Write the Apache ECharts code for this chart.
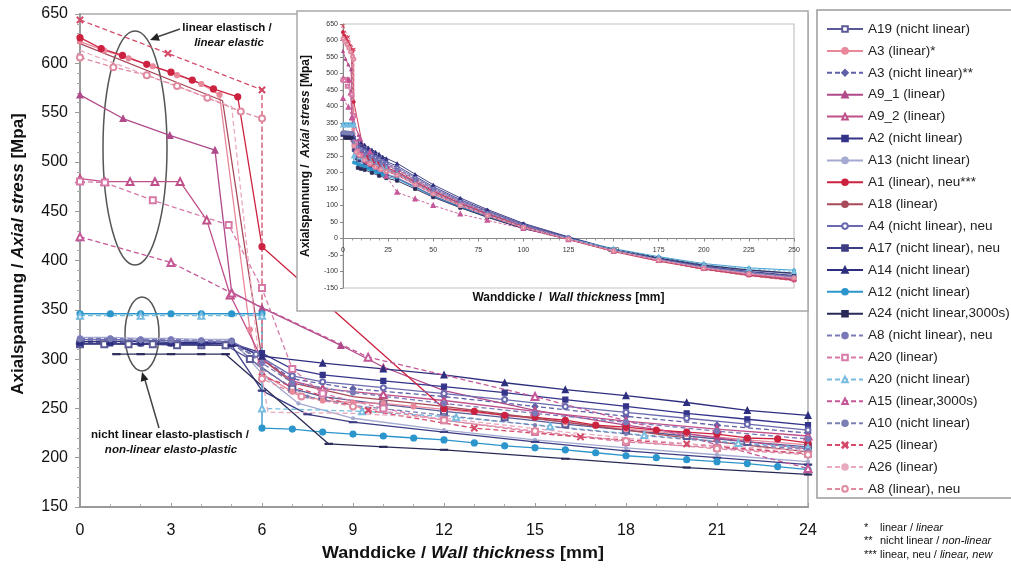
<!DOCTYPE html>
<html>
<head>
<meta charset="utf-8">
<script src="https://cdn.jsdelivr.net/npm/echarts@6/dist/echarts.min.js"></script>
<style>
  html, body { margin: 0; padding: 0; background: #fff; }
  #chart { width: 1011px; height: 569px; }
</style>
</head>
<body>
<div id="chart"></div>
<script>
// Axial stress over wall thickness, FE results per specimen.
// Each series: detailed points in the first 24 mm, then values on a shared grid out to 250 mm.
const TAIL_X = [30, 40, 50, 65, 80, 100, 125, 150, 175, 200, 225, 250];

const a19 = [[0,315],[0.8,315],[1.6,315],[2.4,315],[3.2,314],[4,314],[4.8,314],[5.6,300],[7,270],[8,262],[10,254],[12,247],[14,241],[16,234],[18,228],[20,222],[22,216],[24,211]];
const a19Tail = [200,171,142,106,74,36,0,-35,-62,-85,-101,-114];

const a3lin = [[0,622],[0.8,613],[1.6,605],[2.4,597],[3.2,588],[4,579],[4.6,568],[5.6,330],[6,285],[7,267],[8,258],[9,256],[10,255],[11,252],[12,249],[14,243],[16,236],[18,229],[20,224],[22,218],[24,213]];
const a3linTail = [201,172,143,106,74,35,-2,-38,-67,-92,-110,-124];

const a3nl = [[0,317],[1,317],[2,316],[3,316],[4,316],[5,315],[6,300],[7,280],[9,270],[12,262],[15,252],[18,242],[21,233],[24,225]];
const a3nlTail = [212,181,151,113,80,40,1,-36,-64,-88,-105,-119];

const a9_1 = [[0,568],[1.42,544],[2.96,527],[4.45,512],[5,368],[6,352],[8.6,314],[10,292],[12,268],[15,248],[18,233],[21,220],[24,209]];
const a9_1Tail = [198,169,140,104,72,34,-2,-38,-67,-91,-109,-123];

const a9_2 = [[0,483],[0.82,480],[1.65,480],[2.47,480],[3.3,480],[4.18,441],[4.95,365],[6,300],[7,278],[8,270],[10,264],[12,258],[15,247],[18,237],[21,229],[24,222]];
const a9_2Tail = [209,178,148,111,78,38,0,-37,-66,-90,-108,-122];

const a2 = [[0,316],[1,316],[2,316],[3,316],[4,316],[5,316],[6,306],[7,290],[8,284],[10,278],[12,272],[14,266],[16,259],[18,252],[20,245],[22,239],[24,233]];
const a2Tail = [220,188,157,118,84,43,3,-34,-62,-86,-103,-116];

const a13 = [[0,322],[1,322],[2,321],[3,321],[4,320],[5,320],[6,285],[7.2,255],[9,240],[12,228],[15,218],[18,210],[21,203],[24,196]];
const a13Tail = [186,158,131,97,67,31,-1,-34,-60,-82,-97,-108];

const a1 = [[0,626],[0.7,615],[1.4,608],[2.2,599],[3,591],[3.7,583],[4.4,574],[5.2,566],[6,414],[12,250],[13,247],[14,243],[15,241],[16,238],[17,233],[18,231],[19,228],[20,226],[21,224],[22,220],[23,219],[24,215]];
const a1Tail = [203,173,144,107,75,36,-2,-39,-68,-93,-112,-127];

const a18 = [[0,620],[4.7,562],[5.4,420],[6,300],[7,276],[9,262],[12,252],[15,240],[18,228],[21,216],[24,206]];
const a18Tail = [195,166,138,102,71,33,-3,-39,-68,-92,-111,-126];

const a4 = [[0,320],[1,320],[2,319],[3,319],[4,318],[5,318],[5.8,305],[7,283],[8,277],[10,271],[12,265],[14,259],[16,252],[18,246],[20,240],[22,234],[24,228]];
const a4Tail = [215,184,153,115,82,41,2,-35,-63,-87,-104,-117];

const a17 = [[0,316],[1,316],[2,315],[3,315],[4,315],[5,314],[6,268],[7.5,244],[9,236],[12,226],[15,216],[18,207],[21,200],[24,193]];
const a17Tail = [183,156,129,96,66,31,-1,-34,-59,-81,-96,-106];

const a14 = [[0,318],[1,318],[2,318],[3,317],[4,317],[5,316],[6,303],[8,296],[10,290],[12,284],[14,276],[16,269],[18,263],[20,256],[22,248],[24,243]];
const a14Tail = [228,195,163,123,88,46,5,-33,-60,-84,-100,-112];

const a12 = [[0,346],[1,346],[2,346],[3,346],[4,346],[5,346],[6,346],[6,230],[7,229],[8,226],[9,224],[10,222],[11,220],[12,218],[13,215],[14,212],[15,210],[16,208],[17,205],[18,202],[19,200],[20,198],[21,196],[22,194],[23,191],[24,188]];
const a12Tail = [180,154,128,95,66,31,0,-31,-55,-76,-89,-96];

const a24 = [[1.2,305],[2,305],[3,305],[4,305],[4.8,305],[8.2,214],[10,211],[12,208],[16,199],[20,190],[24,183]];
const a24Tail = [175,150,125,93,64,30,-1,-33,-58,-80,-95,-105];

const a8nl = [[0,321],[1,321],[2,320],[3,320],[4,319],[5,318],[6,296],[7,276],[9,266],[12,255],[15,245],[18,236],[21,227],[24,219]];
const a8nlTail = [207,176,147,110,77,38,1,-35,-63,-86,-103,-116];

const a20lin = [[0,480],[0.82,479],[2.4,461],[4.9,436],[6,372],[7,290],[8,265],[10,250],[12,238],[15,226],[18,216],[21,210],[24,204]];
const a20linTail = [193,164,136,101,70,33,-2,-38,-66,-90,-108,-121];

const a20nl = [[0,344],[2,344],[4,344],[6,344],[6,250],[9.3,247],[12.4,241],[15.5,232],[18.6,223],[21.7,215],[24,210]];
const a20nlTail = [196,166,137,101,70,33,0,-32,-57,-78,-92,-100];

const a15 = [[0,424],[3,398],[5,367],[9.5,302],[15,262],[24,189]];
const a15Tail = [140,120,100,74,55,30,-4,-39,-67,-91,-109,-122];

const a10 = [[0,319],[1,319],[2,318],[3,318],[4,318],[5,317],[6,290],[7.5,262],[9,253],[12,243],[15,233],[18,224],[21,216],[24,208]];
const a10Tail = [197,168,140,104,72,34,-1,-36,-63,-86,-102,-115];

const a25 = [[0,644],[2.9,610],[6,573],[6,282],[9.5,248],[13,230],[16.5,221],[20,214],[24,204]];
const a25Tail = [192,163,135,100,69,32,-3,-40,-69,-94,-113,-128];

const a26 = [[0,613],[5,556],[5.9,300],[6.2,246],[9,245],[12,240],[16,226],[20,214],[24,207]];
const a26Tail = [195,166,138,102,71,34,-1,-37,-65,-89,-106,-119];

const a8lin = [[0,606],[1.1,596],[2.2,588],[3.2,577],[4.2,565],[5.3,551],[6,544],[6,280],[7.3,262],[9,252],[12,238],[15,227],[18,217],[21,209],[24,203]];
const a8linTail = [192,163,135,100,69,33,-2,-38,-66,-90,-107,-120];

const MAIN_Y_TICKS = [150, 650, 50];
const MAIN_X_TICKS = [0, 24, 3];
const INSET_Y_TICKS = [-150, 650, 50];
const INSET_X_TICKS = [0, 250, 25];

const FONT = '"Liberation Sans", Arial, Helvetica, sans-serif';
const DASH = 'path://M0,0H10V2H0Z';
const CROSS = 'path://M1,0L5,4L9,0L10,1L6,5L10,9L9,10L5,6L1,10L0,9L4,5L0,1Z';

const specs = [
  { name: 'A19 (nicht linear)',        head: a19,    tail: a19Tail,    color: '#5a5a96', dashed: false, symbol: 'emptyRect',     size: 6 },
  { name: 'A3 (linear)*',              head: a3lin,  tail: a3linTail,  color: '#e8889a', dashed: false, symbol: 'circle',        size: 5 },
  { name: 'A3 (nicht linear)**',       head: a3nl,   tail: a3nlTail,   color: '#6060a8', dashed: true,  symbol: 'diamond',       size: 6 },
  { name: 'A9_1 (linear)',             head: a9_1,   tail: a9_1Tail,   color: '#b04a8a', dashed: false, symbol: 'triangle',      size: 6 },
  { name: 'A9_2 (linear)',             head: a9_2,   tail: a9_2Tail,   color: '#c0508a', dashed: false, symbol: 'emptyTriangle', size: 7 },
  { name: 'A2 (nicht linear)',         head: a2,     tail: a2Tail,     color: '#34348a', dashed: false, symbol: 'rect',          size: 5 },
  { name: 'A13 (nicht linear)',        head: a13,    tail: a13Tail,    color: '#a4aad0', dashed: false, symbol: 'circle',        size: 3 },
  { name: 'A1 (linear), neu***',       head: a1,     tail: a1Tail,     color: '#cc2240', dashed: false, symbol: 'circle',        size: 6 },
  { name: 'A18 (linear)',              head: a18,    tail: a18Tail,    color: '#a84a5a', dashed: false, symbol: 'none',          size: 0 },
  { name: 'A4 (nicht linear), neu',    head: a4,     tail: a4Tail,     color: '#6a6ab0', dashed: false, symbol: 'emptyCircle',   size: 5 },
  { name: 'A17 (nicht linear), neu',   head: a17,    tail: a17Tail,    color: '#3c3c84', dashed: false, symbol: DASH,            size: [6, 1.5] },
  { name: 'A14 (nicht linear)',        head: a14,    tail: a14Tail,    color: '#2e2e7e', dashed: false, symbol: 'triangle',      size: 6 },
  { name: 'A12 (nicht linear)',        head: a12,    tail: a12Tail,    color: '#2c96cc', dashed: false, symbol: 'circle',        size: 6 },
  { name: 'A24 (nicht linear,3000s)',  head: a24,    tail: a24Tail,    color: '#2a2a58', dashed: false, symbol: DASH,            size: [6, 1.5] },
  { name: 'A8 (nicht linear), neu',    head: a8nl,   tail: a8nlTail,   color: '#7a7ab8', dashed: true,  symbol: 'circle',        size: 5 },
  { name: 'A20 (linear)',              head: a20lin, tail: a20linTail, color: '#d87aa8', dashed: true,  symbol: 'emptyRect',     size: 6 },
  { name: 'A20 (nicht linear)',        head: a20nl,  tail: a20nlTail,  color: '#78bce0', dashed: true,  symbol: 'emptyTriangle', size: 6 },
  { name: 'A15 (linear,3000s)',        head: a15,    tail: a15Tail,    color: '#c45898', dashed: true,  symbol: 'emptyTriangle', size: 7 },
  { name: 'A10 (nicht linear)',        head: a10,    tail: a10Tail,    color: '#7c80b4', dashed: true,  symbol: 'circle',        size: 3 },
  { name: 'A25 (linear)',              head: a25,    tail: a25Tail,    color: '#d44a68', dashed: true,  symbol: CROSS,           size: 6 },
  { name: 'A26 (linear)',              head: a26,    tail: a26Tail,    color: '#e8aabf', dashed: true,  symbol: 'none',          size: 0 },
  { name: 'A8 (linear), neu',          head: a8lin,  tail: a8linTail,  color: '#e08aa0', dashed: true,  symbol: 'emptyCircle',   size: 6 }
];

function points(head, tail) {
  return head.concat(TAIL_X.map((x, i) => [x, tail[i]]));
}

const series = [];
specs.forEach(s => {
  const data = points(s.head, s.tail);
  const noSym = s.symbol === 'none';
  series.push({
    type: 'line', name: s.name, xAxisIndex: 0, yAxisIndex: 0, z: 2,
    data: data, clip: true,
    symbol: s.symbol, symbolSize: s.size, showSymbol: !noSym,
    lineStyle: { color: s.color, width: 1.3, type: s.dashed ? [5, 3] : 'solid' },
    itemStyle: { color: s.color, borderColor: s.color, borderWidth: 1.2 },
    animation: false, silent: true
  });
  series.push({
    type: 'line', name: s.name, xAxisIndex: 1, yAxisIndex: 1, z: 6,
    data: data, clip: true,
    symbol: s.symbol, symbolSize: noSym ? 0 : 3, showSymbol: !noSym,
    lineStyle: { color: s.color, width: 0.9, type: s.dashed ? [3, 2] : 'solid' },
    itemStyle: { color: s.color, borderColor: s.color, borderWidth: 0.8 },
    animation: false, silent: true
  });
});

const chart = echarts.init(document.getElementById('chart'), null, { renderer: 'canvas' });

const richBold = (size) => ({
  b: { fontSize: size, fontWeight: 'bold', fontFamily: FONT, color: '#111' },
  i: { fontSize: size, fontWeight: 'bold', fontStyle: 'italic', fontFamily: FONT, color: '#111' }
});

// inset plot area: top 24, height 264, value range -150..650 -> zero line offset from bottom
const INSET_TOP = 24, INSET_H = 264;
const zeroOffset = INSET_H * (0 - INSET_Y_TICKS[0]) / (INSET_Y_TICKS[1] - INSET_Y_TICKS[0]);

chart.setOption({
  animation: false,
  backgroundColor: '#fff',
  textStyle: { fontFamily: FONT },
  grid: [
    { left: 80, top: 14, width: 728, height: 493, show: true, borderColor: '#aaa', borderWidth: 1.5, z: 0 },
    { left: 343, top: INSET_TOP, width: 451, height: INSET_H, show: true, borderColor: '#c4c4c4', borderWidth: 1.2, z: 4 },
    // white panel holding the inset, drawn over the main plot
    { left: 297, top: 11, width: 511, height: 300, show: true, backgroundColor: '#fff', borderColor: '#a8a8a8', borderWidth: 1.5, z: 3 }
  ],
  xAxis: [
    {
      type: 'value', gridIndex: 0, min: MAIN_X_TICKS[0], max: MAIN_X_TICKS[1], interval: MAIN_X_TICKS[2],
      splitLine: { show: false },
      axisLine: { show: true, onZero: false, lineStyle: { color: '#9a9a9a', width: 2 } },
      axisTick: { show: true, inside: true, length: 4, lineStyle: { color: '#9a9a9a' } },
      minorTick: { show: true, splitNumber: 3, length: 3, lineStyle: { color: '#aaa' } },
      axisLabel: { fontSize: 16, color: '#111', margin: 16, fontFamily: FONT }
    },
    {
      type: 'value', gridIndex: 1, min: INSET_X_TICKS[0], max: INSET_X_TICKS[1], interval: INSET_X_TICKS[2], z: 5,
      position: 'bottom', offset: -zeroOffset,
      splitLine: { show: false },
      axisLine: { show: true, onZero: false, lineStyle: { color: '#888', width: 1 } },
      axisTick: { show: true, length: 3, lineStyle: { color: '#888' } },
      minorTick: { show: true, splitNumber: 5, length: 2, lineStyle: { color: '#999' } },
      axisLabel: { fontSize: 7, color: '#333', margin: 8, fontFamily: FONT },
      name: '{b|Wanddicke /  }{i|Wall thickness}{b| [mm]}',
      nameLocation: 'middle', nameGap: 53,
      nameTextStyle: { rich: richBold(12) }
    }
  ],
  yAxis: [
    {
      type: 'value', gridIndex: 0, min: MAIN_Y_TICKS[0], max: MAIN_Y_TICKS[1], interval: MAIN_Y_TICKS[2],
      splitLine: { show: false },
      axisLine: { show: true, onZero: false, lineStyle: { color: '#9a9a9a', width: 2 } },
      axisTick: { show: true, length: 5, lineStyle: { color: '#9a9a9a' } },
      minorTick: { show: true, splitNumber: 5, length: 3, lineStyle: { color: '#aaa' } },
      axisLabel: { fontSize: 16, color: '#111', margin: 12, fontFamily: FONT }
    },
    {
      type: 'value', gridIndex: 1, min: INSET_Y_TICKS[0], max: INSET_Y_TICKS[1], interval: INSET_Y_TICKS[2], z: 5,
      splitLine: { show: false },
      axisLine: { show: true, onZero: false, lineStyle: { color: '#888', width: 1 } },
      axisTick: { show: true, length: 3, lineStyle: { color: '#888' } },
      axisLabel: { fontSize: 7, color: '#333', margin: 5, fontFamily: FONT },
      name: '{b|Axialspannung /  }{i|Axial stress}{b| [Mpa]}',
      nameLocation: 'middle', nameGap: 31,
      nameTextStyle: { rich: richBold(12) }
    }
  ],
  legend: {
    orient: 'vertical', left: 821, top: 17,
    itemWidth: 36, itemHeight: 7, itemGap: 7.9,
    selectedMode: false,
    textStyle: { fontSize: 13.5, lineHeight: 14, color: '#222', fontFamily: FONT },
    data: specs.map(s => s.name)
  },
  graphic: [
    // legend frame
    { type: 'rect', shape: { x: 817, y: 10, width: 200, height: 488 },
      style: { fill: 'none', stroke: '#9a9a9a', lineWidth: 1.5 } },
    // main axis titles
    { type: 'text', x: 18, y: 254, rotation: Math.PI / 2,
      style: { text: '{b|Axialspannung / }{i|Axial stress}{b| [Mpa]}', align: 'center', verticalAlign: 'middle',
        rich: { b: { fontSize: 17, fontWeight: 'bold', fontFamily: FONT, fill: '#111' },
                i: { fontSize: 17, fontWeight: 'bold', fontStyle: 'italic', fontFamily: FONT, fill: '#111' } } } },
    { type: 'text', x: 463, y: 554, scaleX: 1.12,
      style: { text: '{b|Wanddicke / }{i|Wall thickness}{b| [mm]}', align: 'center', verticalAlign: 'middle',
        rich: { b: { fontSize: 16, fontWeight: 'bold', fontFamily: FONT, fill: '#111' },
                i: { fontSize: 16, fontWeight: 'bold', fontStyle: 'italic', fontFamily: FONT, fill: '#111' } } } },
    // group markers
    { type: 'ellipse', shape: { cx: 135, cy: 148, rx: 32, ry: 117 },
      style: { fill: 'none', stroke: '#555', lineWidth: 1.5 } },
    { type: 'ellipse', shape: { cx: 142, cy: 334, rx: 17, ry: 37 },
      style: { fill: 'none', stroke: '#555', lineWidth: 1.5 } },
    { type: 'line', shape: { x1: 180, y1: 29, x2: 157, y2: 37 },
      style: { stroke: '#444', lineWidth: 1.5 } },
    { type: 'polygon', shape: { points: [[150, 40], [159.9, 40.7], [157.1, 33.1]] },
      style: { fill: '#222' } },
    { type: 'line', shape: { x1: 159, y1: 428, x2: 145, y2: 380 },
      style: { stroke: '#444', lineWidth: 1.5 } },
    { type: 'polygon', shape: { points: [[142, 372], [148.4, 379.4], [140.8, 381.8]] },
      style: { fill: '#222' } },
    { type: 'text', x: 227, y: 28,
      style: { text: 'linear elastisch /', align: 'center', verticalAlign: 'middle',
        fontSize: 11.5, fontWeight: 'bold', fontFamily: FONT, fill: '#111' } },
    { type: 'text', x: 229, y: 43,
      style: { text: 'linear elastic', align: 'center', verticalAlign: 'middle',
        fontSize: 11.5, fontWeight: 'bold', fontStyle: 'italic', fontFamily: FONT, fill: '#111' } },
    { type: 'text', x: 170, y: 435,
      style: { text: 'nicht linear elasto-plastisch /', align: 'center', verticalAlign: 'middle',
        fontSize: 11.5, fontWeight: 'bold', fontFamily: FONT, fill: '#111' } },
    { type: 'text', x: 171, y: 450,
      style: { text: 'non-linear elasto-plastic', align: 'center', verticalAlign: 'middle',
        fontSize: 11.5, fontWeight: 'bold', fontStyle: 'italic', fontFamily: FONT, fill: '#111' } },
    // footnotes
    { type: 'text', x: 864, y: 528, style: { text: '*', verticalAlign: 'middle', fontSize: 11, fontFamily: FONT, fill: '#111' } },
    { type: 'text', x: 864, y: 541, style: { text: '**', verticalAlign: 'middle', fontSize: 11, fontFamily: FONT, fill: '#111' } },
    { type: 'text', x: 864, y: 555, style: { text: '***', verticalAlign: 'middle', fontSize: 11, fontFamily: FONT, fill: '#111' } },
    { type: 'text', x: 880, y: 528,
      style: { text: '{n|linear / }{i|linear}', verticalAlign: 'middle',
        rich: { n: { fontSize: 11, fontFamily: FONT, fill: '#111' }, i: { fontSize: 11, fontStyle: 'italic', fontFamily: FONT, fill: '#111' } } } },
    { type: 'text', x: 880, y: 541,
      style: { text: '{n|nicht linear / }{i|non-linear}', verticalAlign: 'middle',
        rich: { n: { fontSize: 11, fontFamily: FONT, fill: '#111' }, i: { fontSize: 11, fontStyle: 'italic', fontFamily: FONT, fill: '#111' } } } },
    { type: 'text', x: 880, y: 555,
      style: { text: '{n|linear, neu / }{i|linear, new}', verticalAlign: 'middle',
        rich: { n: { fontSize: 11, fontFamily: FONT, fill: '#111' }, i: { fontSize: 11, fontStyle: 'italic', fontFamily: FONT, fill: '#111' } } } }
  ],
  series: series
});
</script>
</body>
</html>
